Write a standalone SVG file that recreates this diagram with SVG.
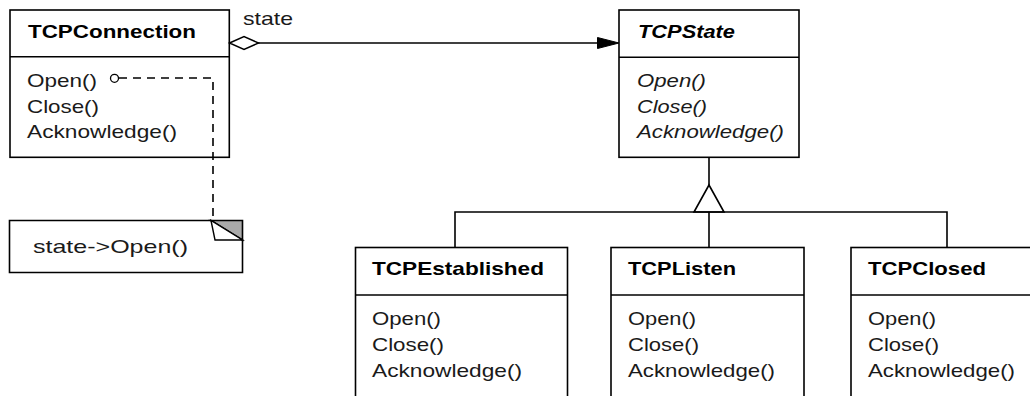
<svg xmlns="http://www.w3.org/2000/svg" width="1030" height="396" viewBox="0 0 1030 396">
<style>
.box{fill:#fff;stroke:#000;stroke-width:1.6}
.ln{fill:none;stroke:#000;stroke-width:1.6}
.dash{fill:none;stroke:#000;stroke-width:1.6;stroke-dasharray:8 6}
text{font-family:"Liberation Sans",Arial,sans-serif;font-size:19px;fill:#1a1a1a}
.t{font-weight:bold;fill:#000}
.i{font-style:italic}
</style>
<rect width="1030" height="396" fill="#fff"/>
<g id="TCPConnection">
<rect class="box" x="10" y="10" width="219.3" height="147.3"/>
<line class="ln" x1="10" y1="56.7" x2="229.3" y2="56.7"/>
<text class="t" x="28" y="38" textLength="168" lengthAdjust="spacingAndGlyphs">TCPConnection</text>
<text x="27" y="87" textLength="70" lengthAdjust="spacingAndGlyphs">Open()</text>
<text x="27" y="112.5" textLength="72" lengthAdjust="spacingAndGlyphs">Close()</text>
<text x="27" y="138" textLength="150" lengthAdjust="spacingAndGlyphs">Acknowledge()</text>
</g>
<g id="TCPState">
<rect class="box" x="619" y="10" width="180" height="147.3"/>
<line class="ln" x1="619" y1="57.3" x2="799" y2="57.3"/>
<text class="t i" x="638" y="37.5" textLength="97" lengthAdjust="spacingAndGlyphs">TCPState</text>
<text class="i" x="637" y="87" textLength="69" lengthAdjust="spacingAndGlyphs">Open()</text>
<text class="i" x="637" y="112.5" textLength="70" lengthAdjust="spacingAndGlyphs">Close()</text>
<text class="i" x="637" y="138" textLength="147" lengthAdjust="spacingAndGlyphs">Acknowledge()</text>
</g>
<g id="TCPEstablished">
<rect class="box" x="355.5" y="247.5" width="212" height="160"/>
<line class="ln" x1="355.5" y1="295" x2="567.5" y2="295"/>
<text class="t" x="372" y="275" textLength="172" lengthAdjust="spacingAndGlyphs">TCPEstablished</text>
<text x="372" y="325" textLength="69" lengthAdjust="spacingAndGlyphs">Open()</text>
<text x="372" y="351" textLength="72" lengthAdjust="spacingAndGlyphs">Close()</text>
<text x="372" y="377" textLength="150" lengthAdjust="spacingAndGlyphs">Acknowledge()</text>
</g>
<g id="TCPListen">
<rect class="box" x="611" y="247.5" width="193" height="160"/>
<line class="ln" x1="611" y1="295" x2="804" y2="295"/>
<text class="t" x="628" y="275" textLength="108" lengthAdjust="spacingAndGlyphs">TCPListen</text>
<text x="628" y="325" textLength="68" lengthAdjust="spacingAndGlyphs">Open()</text>
<text x="628" y="351" textLength="71" lengthAdjust="spacingAndGlyphs">Close()</text>
<text x="628" y="377" textLength="147" lengthAdjust="spacingAndGlyphs">Acknowledge()</text>
</g>
<g id="TCPClosed">
<rect class="box" x="851" y="247.5" width="193" height="160"/>
<line class="ln" x1="851" y1="295" x2="1044" y2="295"/>
<text class="t" x="868" y="275" textLength="118" lengthAdjust="spacingAndGlyphs">TCPClosed</text>
<text x="868" y="325" textLength="68" lengthAdjust="spacingAndGlyphs">Open()</text>
<text x="868" y="351" textLength="71" lengthAdjust="spacingAndGlyphs">Close()</text>
<text x="868" y="377" textLength="147" lengthAdjust="spacingAndGlyphs">Acknowledge()</text>
</g>
<g id="connectors">
<line class="ln" x1="258" y1="43" x2="600" y2="43"/>
<polygon points="229.5,43 244,36.5 258.5,43 244,49.5" fill="#fff" stroke="#000" stroke-width="1.5"/>
<polygon points="597.5,37.5 619,43 597.5,48.5" fill="#000" stroke="#000" stroke-width="1"/>
<text x="243" y="25" textLength="50" lengthAdjust="spacingAndGlyphs">state</text>
<polyline class="ln" points="709,157.5 709,185"/>
<polygon points="709,185 694,212 724,212" fill="#fff" stroke="#000" stroke-width="1.6"/>
<polyline class="ln" points="455,247.5 455,212 947,212 947,247.5"/>
<line class="ln" x1="709" y1="212" x2="709" y2="247.5"/>
<circle cx="114.5" cy="78.3" r="4" fill="#fff" stroke="#000" stroke-width="1.3"/>
<polyline class="dash" points="119,78 213,78 213,220"/>
</g>
<g id="note">
<polygon class="box" points="9.5,220.5 211,220.5 242.5,240 242.5,272.5 9.5,272.5"/>
<polygon points="211,220.5 242.5,220.5 242.5,240" fill="#aaa" stroke="#000" stroke-width="1.6"/>
<polygon points="211,220.5 215,240 242.5,240" fill="#fff" stroke="#000" stroke-width="1.4"/>
<text x="33" y="252.5" textLength="155" lengthAdjust="spacingAndGlyphs">state-&gt;Open()</text>
</g>
</svg>
